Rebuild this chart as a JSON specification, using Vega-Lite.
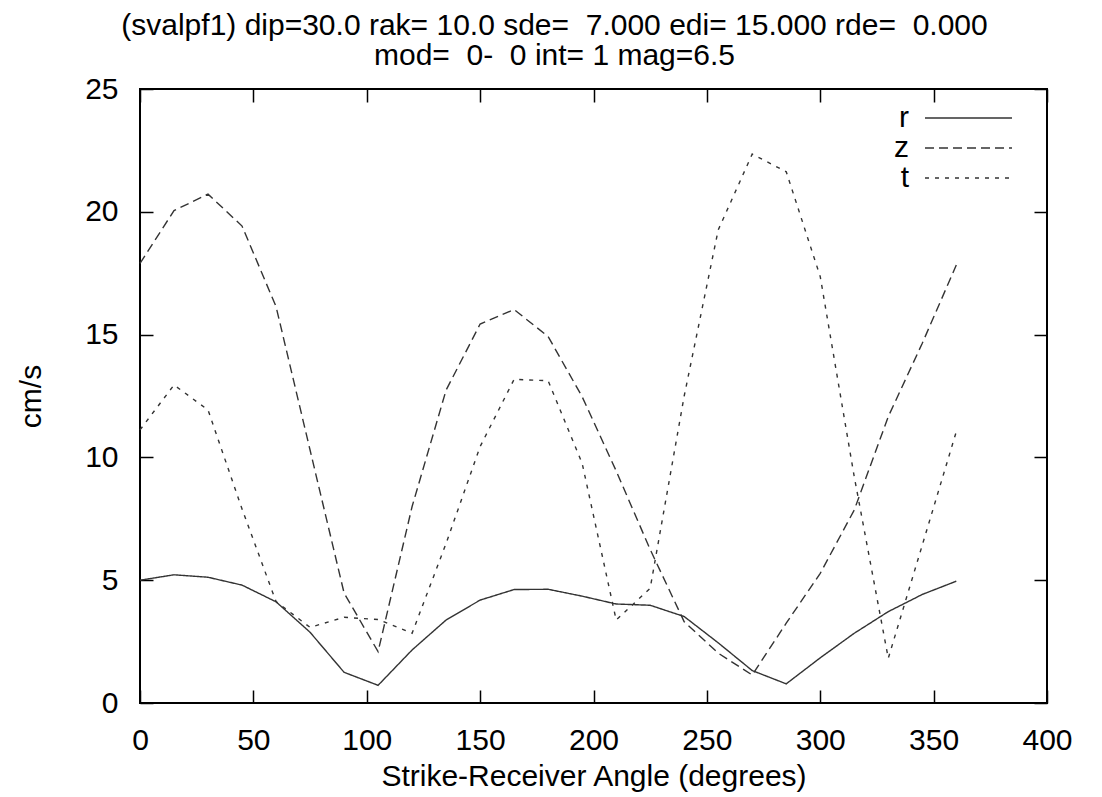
{
  "$schema": "https://vega.github.io/schema/vega-lite/v6.json",
  "width": 907,
  "height": 614,
  "autosize": {"type": "none"},
  "padding": {"left": 140, "top": 89, "right": 55, "bottom": 94},
  "background": "white",
  "title": {
    "text": ["(svalpf1) dip=30.0 rak= 10.0 sde=\u00a0 7.000 edi= 15.000 rde=\u00a0 0.000", "mod=\u00a0 0-\u00a0 0 int= 1 mag=6.5"],
    "anchor": "middle",
    "dx": -39,
    "font": "Liberation Sans",
    "fontSize": 30,
    "fontWeight": "normal",
    "color": "black",
    "lineHeight": 30,
    "offset": 3
  },
  "config": {
    "view": {"stroke": "black", "strokeWidth": 2},
    "axis": {
      "domain": false,
      "grid": false,
      "tickColor": "black",
      "tickSize": -13,
      "tickWidth": 1.5,
      "labelFont": "Liberation Sans",
      "labelFontSize": 30,
      "labelColor": "black",
      "titleFont": "Liberation Sans",
      "titleFontSize": 30,
      "titleFontWeight": "normal",
      "titleColor": "black"
    }
  },
  "data": {
    "values": [
      {"angle": 0, "comp": "r", "v": 5.0}, {"angle": 15, "comp": "r", "v": 5.22}, {"angle": 30, "comp": "r", "v": 5.12}, {"angle": 45, "comp": "r", "v": 4.8}, {"angle": 60, "comp": "r", "v": 4.12}, {"angle": 75, "comp": "r", "v": 2.88}, {"angle": 90, "comp": "r", "v": 1.25}, {"angle": 105, "comp": "r", "v": 0.72}, {"angle": 120, "comp": "r", "v": 2.16}, {"angle": 135, "comp": "r", "v": 3.38}, {"angle": 150, "comp": "r", "v": 4.19}, {"angle": 165, "comp": "r", "v": 4.62}, {"angle": 180, "comp": "r", "v": 4.63}, {"angle": 195, "comp": "r", "v": 4.35}, {"angle": 210, "comp": "r", "v": 4.03}, {"angle": 225, "comp": "r", "v": 3.98}, {"angle": 240, "comp": "r", "v": 3.52}, {"angle": 255, "comp": "r", "v": 2.45}, {"angle": 270, "comp": "r", "v": 1.32}, {"angle": 285, "comp": "r", "v": 0.78}, {"angle": 300, "comp": "r", "v": 1.84}, {"angle": 315, "comp": "r", "v": 2.84}, {"angle": 330, "comp": "r", "v": 3.72}, {"angle": 345, "comp": "r", "v": 4.42}, {"angle": 360, "comp": "r", "v": 4.96},
      {"angle": 0, "comp": "z", "v": 17.9}, {"angle": 15, "comp": "z", "v": 20.05}, {"angle": 30, "comp": "z", "v": 20.72}, {"angle": 45, "comp": "z", "v": 19.42}, {"angle": 60, "comp": "z", "v": 16.14}, {"angle": 75, "comp": "z", "v": 10.3}, {"angle": 90, "comp": "z", "v": 4.48}, {"angle": 105, "comp": "z", "v": 2.09}, {"angle": 120, "comp": "z", "v": 8.0}, {"angle": 135, "comp": "z", "v": 12.74}, {"angle": 150, "comp": "z", "v": 15.43}, {"angle": 165, "comp": "z", "v": 16.02}, {"angle": 180, "comp": "z", "v": 14.92}, {"angle": 195, "comp": "z", "v": 12.47}, {"angle": 210, "comp": "z", "v": 9.45}, {"angle": 225, "comp": "z", "v": 6.25}, {"angle": 240, "comp": "z", "v": 3.31}, {"angle": 255, "comp": "z", "v": 2.03}, {"angle": 270, "comp": "z", "v": 1.14}, {"angle": 285, "comp": "z", "v": 3.25}, {"angle": 300, "comp": "z", "v": 5.28}, {"angle": 315, "comp": "z", "v": 7.86}, {"angle": 330, "comp": "z", "v": 11.66}, {"angle": 345, "comp": "z", "v": 14.65}, {"angle": 360, "comp": "z", "v": 17.83},
      {"angle": 0, "comp": "t", "v": 11.12}, {"angle": 15, "comp": "t", "v": 12.95}, {"angle": 30, "comp": "t", "v": 11.93}, {"angle": 45, "comp": "t", "v": 7.9}, {"angle": 60, "comp": "t", "v": 4.13}, {"angle": 75, "comp": "t", "v": 3.08}, {"angle": 90, "comp": "t", "v": 3.49}, {"angle": 105, "comp": "t", "v": 3.4}, {"angle": 120, "comp": "t", "v": 2.84}, {"angle": 135, "comp": "t", "v": 6.5}, {"angle": 150, "comp": "t", "v": 10.44}, {"angle": 165, "comp": "t", "v": 13.18}, {"angle": 180, "comp": "t", "v": 13.12}, {"angle": 195, "comp": "t", "v": 9.76}, {"angle": 210, "comp": "t", "v": 3.38}, {"angle": 225, "comp": "t", "v": 4.67}, {"angle": 240, "comp": "t", "v": 12.5}, {"angle": 255, "comp": "t", "v": 19.26}, {"angle": 270, "comp": "t", "v": 22.35}, {"angle": 285, "comp": "t", "v": 21.63}, {"angle": 300, "comp": "t", "v": 17.36}, {"angle": 315, "comp": "t", "v": 9.21}, {"angle": 330, "comp": "t", "v": 1.82}, {"angle": 345, "comp": "t", "v": 6.43}, {"angle": 360, "comp": "t", "v": 11.05}
    ]
  },
  "layer": [
    {
      "mark": {"type": "line", "color": "#333", "strokeWidth": 1.4},
      "encoding": {
        "x": {"field": "angle", "type": "quantitative", "scale": {"domain": [0, 400], "nice": false},
              "axis": {"orient": "bottom", "values": [0, 50, 100, 150, 200, 250, 300, 350, 400], "labelPadding": 35, "title": "Strike-Receiver Angle (degrees)", "titlePadding": 6, "labelFlush": false}},
        "y": {"field": "v", "type": "quantitative", "scale": {"domain": [0, 25], "nice": false},
              "axis": {"orient": "left", "values": [0, 5, 10, 15, 20, 25], "labelPadding": 35, "title": "cm/s", "titlePadding": 38}},
        "strokeDash": {"field": "comp", "type": "nominal",
          "scale": {"domain": ["r", "z", "t"], "range": [[1, 0], [9, 5], [4, 6]]},
          "legend": {"orient": "none", "legendX": 813.5, "legendY": 14, "title": null, "padding": 0,
                     "symbolType": "M-3.346,0H3.346", "symbolSize": 676, "symbolStrokeWidth": 1.4, "symbolStrokeColor": "#333",
                     "labelFont": "Liberation Sans", "labelFontSize": 30, "labelColor": "black",
                     "labelAlign": "right", "labelOffset": -74.5, "rowPadding": 0}
        }
      }
    },
    {
      "mark": {"type": "point", "opacity": 0},
      "encoding": {
        "x": {"field": "angle", "type": "quantitative", "scale": {"domain": [0, 400], "nice": false},
              "axis": {"orient": "top", "values": [0, 50, 100, 150, 200, 250, 300, 350, 400], "labels": false, "title": null}},
        "y": {"field": "v", "type": "quantitative", "scale": {"domain": [0, 25], "nice": false},
              "axis": {"orient": "right", "values": [0, 5, 10, 15, 20, 25], "labels": false, "title": null}}
      }
    }
  ],
  "resolve": {"axis": {"x": "independent", "y": "independent"}}
}
